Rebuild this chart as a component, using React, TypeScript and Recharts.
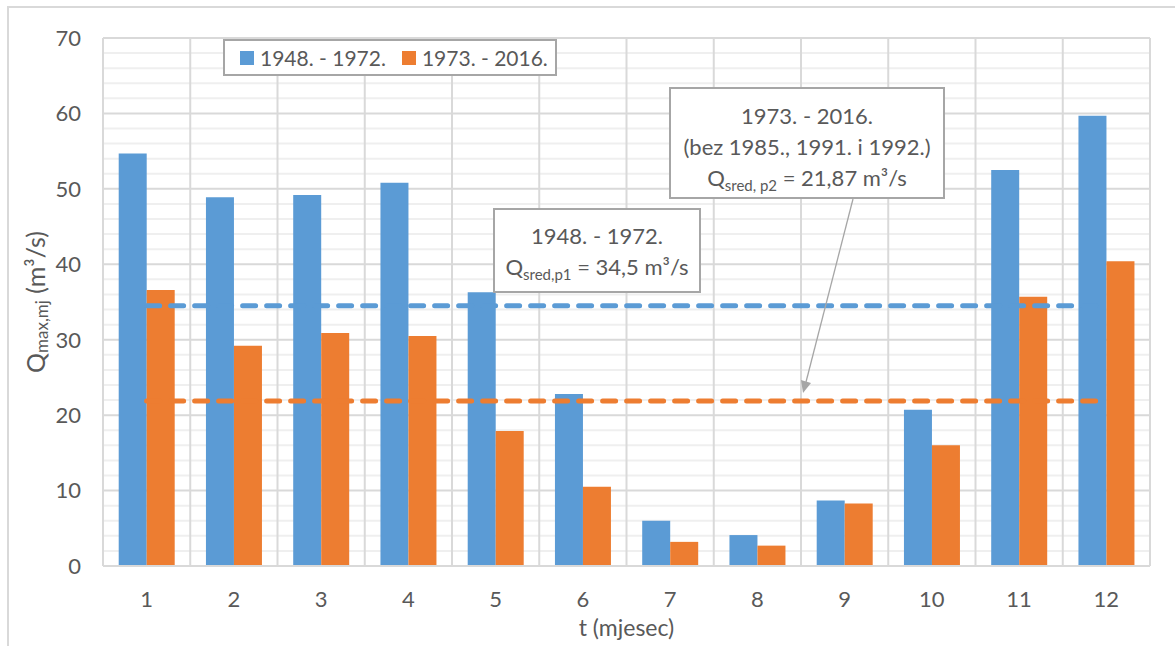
import React from "react";
import {
  ComposedChart,
  Bar,
  Line,
  XAxis,
  YAxis,
  CartesianGrid,
} from "recharts";

const months = ["1", "2", "3", "4", "5", "6", "7", "8", "9", "10", "11", "12"];
const q1948 = [54.7, 48.9, 49.2, 50.8, 36.3, 22.8, 6.0, 4.1, 8.7, 20.7, 52.5, 59.7];
const q1973 = [36.6, 29.2, 30.9, 30.5, 17.9, 10.5, 3.2, 2.7, 8.3, 16.0, 35.7, 40.4];
const mean1948 = 34.5;
const mean1973 = 21.87;
const yMax = 70;
const majorTicks = [0, 10, 20, 30, 40, 50, 60, 70];
const minorTicks = [2, 4, 6, 8, 12, 14, 16, 18, 22, 24, 26, 28, 32, 34, 36, 38, 42, 44, 46, 48, 52, 54, 56, 58, 62, 64, 66, 68];

const BLUE = "#5b9bd5";
const ORANGE = "#ed7d31";
const TEXT = "#595959";
const FONT = "Lato, Calibri, 'Open Sans', sans-serif";

const data = months.map((m, i) => ({
  month: m,
  p1: q1948[i],
  p2: q1973[i],
  avg1: mean1948,
  avg2: mean1973,
}));

const legendItems = [
  { label: "1948. - 1972.", color: BLUE },
  { label: "1973. - 2016.", color: ORANGE },
];

// vertical grid lines on the category boundaries, not the centres
const boundaryLines = ({ offset }: any) =>
  Array.from({ length: months.length + 1 }, (_, i) => offset.left + (i * offset.width) / months.length);

// light minor lines every 2 units
const minorLines = ({ offset }: any) =>
  minorTicks.map((t) => offset.top + offset.height * (1 - t / yMax));

const renderYLabel = (props: any) => {
  const vb = props.viewBox;
  const cx = vb.x + 35;
  const cy = vb.y + vb.height / 2;
  return (
    <text
      x={cx}
      y={cy}
      transform={`rotate(-90 ${cx} ${cy})`}
      textAnchor="middle"
      dominantBaseline="central"
      fill={TEXT}
      fontSize={25}
      fontFamily={FONT}
    >
      Q
      <tspan fontSize={17} dy={6}>max,mj</tspan>
      <tspan dy={-6}> (m³/s)</tspan>
    </text>
  );
};

const renderXLabel = (props: any) => {
  const vb = props.viewBox;
  return (
    <text
      x={vb.x + vb.width / 2}
      y={vb.y + 70}
      textAnchor="middle"
      fill={TEXT}
      fontSize={23}
      fontFamily={FONT}
    >
      t (mjesec)
    </text>
  );
};

const boxStyle: React.CSSProperties = {
  position: "absolute",
  background: "#fff",
  border: "2px solid #a6a6a6",
  boxSizing: "border-box",
  color: TEXT,
  fontFamily: FONT,
  fontSize: 22,
  textAlign: "center",
  lineHeight: "31px",
  whiteSpace: "nowrap",
};

export default function App() {
  return (
    <div
      style={{
        position: "fixed",
        left: 0,
        top: 0,
        width: 1175,
        height: 646,
        background: "#fff",
        overflow: "hidden",
      }}
    >
      <div
        style={{
          position: "absolute",
          left: 7,
          top: 6,
          width: 1300,
          height: 800,
          border: "2px solid #d9d9d9",
        }}
      />
      <div style={{ position: "absolute", left: 0, top: 0 }}>
        <ComposedChart
          width={1175}
          height={646}
          data={data}
          margin={{ top: 38, right: 25, bottom: 50, left: 0 }}
          barCategoryGap="18%"
          barGap={0}
        >
          <CartesianGrid
            vertical={false}
            stroke="#efefef"
            strokeWidth={2}
            horizontalCoordinatesGenerator={minorLines}
          />
          <CartesianGrid
            horizontal
            vertical
            stroke="#d9d9d9"
            strokeWidth={2}
            verticalCoordinatesGenerator={boundaryLines}
          />
          <XAxis
            dataKey="month"
            interval={0}
            tickLine={false}
            tickSize={0}
            tickMargin={25}
            height={30}
            axisLine={{ stroke: "#d9d9d9", strokeWidth: 2 }}
            tick={{ fill: TEXT, fontSize: 22, fontFamily: FONT }}
            label={renderXLabel}
          />
          <YAxis
            domain={[0, yMax]}
            ticks={majorTicks}
            width={103}
            tickLine={false}
            tickSize={0}
            tickMargin={22}
            axisLine={{ stroke: "#d9d9d9", strokeWidth: 2 }}
            tick={{ fill: TEXT, fontSize: 22, fontFamily: FONT }}
            label={renderYLabel}
          />
          <Bar dataKey="p1" fill={BLUE} isAnimationActive={false} />
          <Bar dataKey="p2" fill={ORANGE} isAnimationActive={false} />
          <Line
            dataKey="avg1"
            stroke={BLUE}
            strokeWidth={5}
            strokeDasharray="13 11"
            strokeLinecap="round"
            dot={false}
            activeDot={false}
            legendType="none"
            isAnimationActive={false}
          />
          <Line
            dataKey="avg2"
            stroke={ORANGE}
            strokeWidth={5}
            strokeDasharray="13 11"
            strokeLinecap="round"
            dot={false}
            activeDot={false}
            legendType="none"
            isAnimationActive={false}
          />
        </ComposedChart>
      </div>

      {/* legend */}
      <div
        style={{
          ...boxStyle,
          left: 223,
          top: 39,
          width: 334,
          height: 37,
          display: "flex",
          alignItems: "center",
          paddingLeft: 15,
          fontSize: 21,
          lineHeight: "normal",
        }}
      >
        {legendItems.map((it) => (
          <span
            key={it.label}
            style={{ display: "flex", alignItems: "center", marginRight: 16, flexShrink: 0 }}
          >
            <span
              style={{ width: 14, height: 14, background: it.color, marginRight: 6, display: "inline-block" }}
            />
            {it.label}
          </span>
        ))}
      </div>

      {/* callout 1948-1972 */}
      <div style={{ ...boxStyle, left: 493, top: 208, width: 208, height: 85, paddingTop: 10 }}>
        <div>1948. - 1972.</div>
        <div>
          Q<sub style={{ fontSize: 15, verticalAlign: -5 }}>sred,p1</sub> = 34,5 m³/s
        </div>
      </div>

      {/* callout 1973-2016 */}
      <div style={{ ...boxStyle, left: 669, top: 87, width: 276, height: 112, paddingTop: 11 }}>
        <div>1973. - 2016.</div>
        <div>(bez 1985., 1991. i 1992.)</div>
        <div>
          Q<sub style={{ fontSize: 15, verticalAlign: -5 }}>sred, p2</sub> = 21,87 m³/s
        </div>
      </div>

      <svg
        width={1175}
        height={646}
        style={{ position: "absolute", left: 0, top: 0, pointerEvents: "none" }}
      >
        <line x1={853} y1={199} x2={806} y2={382} stroke="#a6a6a6" strokeWidth={1.3} />
        <polygon points="803,393 811,383 801,380" fill="#a6a6a6" />
      </svg>
    </div>
  );
}
